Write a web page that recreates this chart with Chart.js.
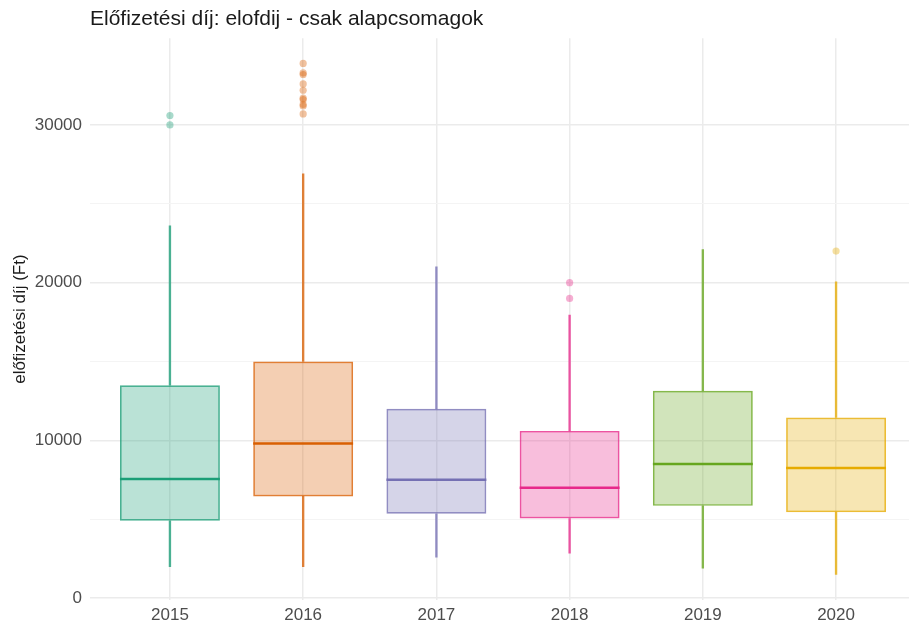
<!DOCTYPE html>
<html>
<head>
<meta charset="utf-8">
<script src="https://cdn.jsdelivr.net/npm/chart.js@4.4.0/dist/chart.umd.min.js"></script>
<style>
  html, body { margin: 0; padding: 0; background: #fff; overflow: hidden; }
  #wrap { width: 920px; height: 630px; }
</style>
</head>
<body>
<div id="wrap"><canvas id="chart"></canvas></div>
<script>
// categories
const years = ['2015', '2016', '2017', '2018', '2019', '2020'];

// box plot stats per year (Ft)
const whiskerLow = [2000, 2000, 2600, 2850, 1900, 1500];
const q1 = [4900, 6450, 5350, 5050, 5850, 5450];
const medians = [7550, 9800, 7500, 7000, 8500, 8250];
const q3 = [13500, 15000, 12000, 10600, 13150, 11450];
const whiskerHigh = [23600, 26900, 21000, 17950, 22100, 20050];

// outliers per year
const outliers = [
    [30000, 30600],
    [30700, 31200, 31300, 31600, 31700, 32200, 32600, 33200, 33300, 33900],
    [],
    [19000, 20000],
    [],
    [22000]
];

// y axis ticks
const yGridValues = [0, 5000, 10000, 15000, 20000, 25000, 30000];
const yLabelValues = [0, 10000, 20000, 30000];

// Dark2 palette
const colors = ['27,158,119', '217,95,2', '117,112,179', '231,41,138', '102,166,30', '230,171,2'];
const rgba = (c, a) => `rgba(${c},${a})`;

const boxWidth = 0.75;

// Build datasets
const datasets = [];

// whiskers (upper and lower)
datasets.push({
    type: 'bar',
    data: years.map((y, i) => ({ x: i, y: [q3[i], whiskerHigh[i]] })),
    backgroundColor: colors.map(c => rgba(c, 0.78)),
    barThickness: 1.7,
    grouped: false,
    order: 5
});
datasets.push({
    type: 'bar',
    data: years.map((y, i) => ({ x: i, y: [whiskerLow[i], q1[i]] })),
    backgroundColor: colors.map(c => rgba(c, 0.78)),
    barThickness: 1.7,
    grouped: false,
    order: 5
});

// boxes
datasets.push({
    type: 'bar',
    data: years.map((y, i) => ({ x: i, y: [q1[i], q3[i]] })),
    backgroundColor: colors.map(c => rgba(c, 0.3)),
    borderColor: colors.map(c => rgba(c, 0.8)),
    borderWidth: 1.7,
    borderSkipped: false,
    barPercentage: boxWidth,
    categoryPercentage: 1,
    grouped: false,
    order: 4
});

// median lines
years.forEach((y, i) => {
    datasets.push({
        type: 'line',
        data: [{ x: i - boxWidth / 2, y: medians[i] }, { x: i + boxWidth / 2, y: medians[i] }],
        borderColor: rgba(colors[i], 1),
        borderWidth: 2.6,
        pointRadius: 0,
        order: 3
    });
});

// outlier points
datasets.push({
    type: 'scatter',
    data: outliers.flatMap((list, i) => list.map(v => ({ x: i, y: v }))),
    pointBackgroundColor: outliers.flatMap((list, i) => list.map(() => rgba(colors[i], 0.38))),
    pointBorderWidth: 0,
    pointRadius: 3.6,
    order: 1
});

const tickFont = { family: '"Liberation Sans", Arial, sans-serif', size: 17 };

new Chart(document.getElementById('chart'), {
    type: 'bar',
    data: { datasets: datasets },
    options: {
        responsive: true,
        maintainAspectRatio: false,
        animation: false,
        layout: { padding: { left: 0, right: 4, top: 0, bottom: 0 } },
        plugins: {
            legend: { display: false },
            tooltip: { enabled: false },
            title: {
                display: true,
                text: 'Előfizetési díj: elofdij - csak alapcsomagok',
                align: 'start',
                fullSize: false,
                color: '#1a1a1a',
                font: { family: '"Liberation Sans", Arial, sans-serif', size: 21, weight: 'normal' },
                padding: { top: 7, bottom: 6 }
            }
        },
        scales: {
            x: {
                type: 'linear',
                min: -0.6,
                max: 5.6,
                offset: false,
                afterBuildTicks: (scale) => {
                    scale.ticks = years.map((y, i) => ({ value: i }));
                },
                afterFit: (scale) => { scale.height = 30; },
                ticks: {
                    callback: (v) => years[v],
                    color: '#4d4d4d',
                    font: tickFont,
                    padding: 5,
                    maxRotation: 0
                },
                grid: { color: '#ebebeb', lineWidth: 1.5, drawTicks: false, offset: false },
                border: { display: false }
            },
            y: {
                min: -120,
                max: 35500,
                afterBuildTicks: (scale) => {
                    scale.ticks = yGridValues.map(v => ({ value: v }));
                },
                afterFit: (scale) => { scale.width = 90; },
                ticks: {
                    callback: (v) => yLabelValues.includes(v) ? String(v) : '',
                    color: '#4d4d4d',
                    font: tickFont,
                    padding: 8
                },
                grid: {
                    color: (ctx) => yLabelValues.includes(ctx.tick.value) ? '#ebebeb' : '#f4f4f4',
                    lineWidth: (ctx) => yLabelValues.includes(ctx.tick.value) ? 1.5 : 1,
                    drawTicks: false
                },
                border: { display: false },
                title: {
                    display: true,
                    text: 'előfizetési díj (Ft)',
                    color: '#1a1a1a',
                    font: tickFont,
                    padding: { top: 10, bottom: 0 }
                }
            }
        }
    }
});
</script>
</body>
</html>
